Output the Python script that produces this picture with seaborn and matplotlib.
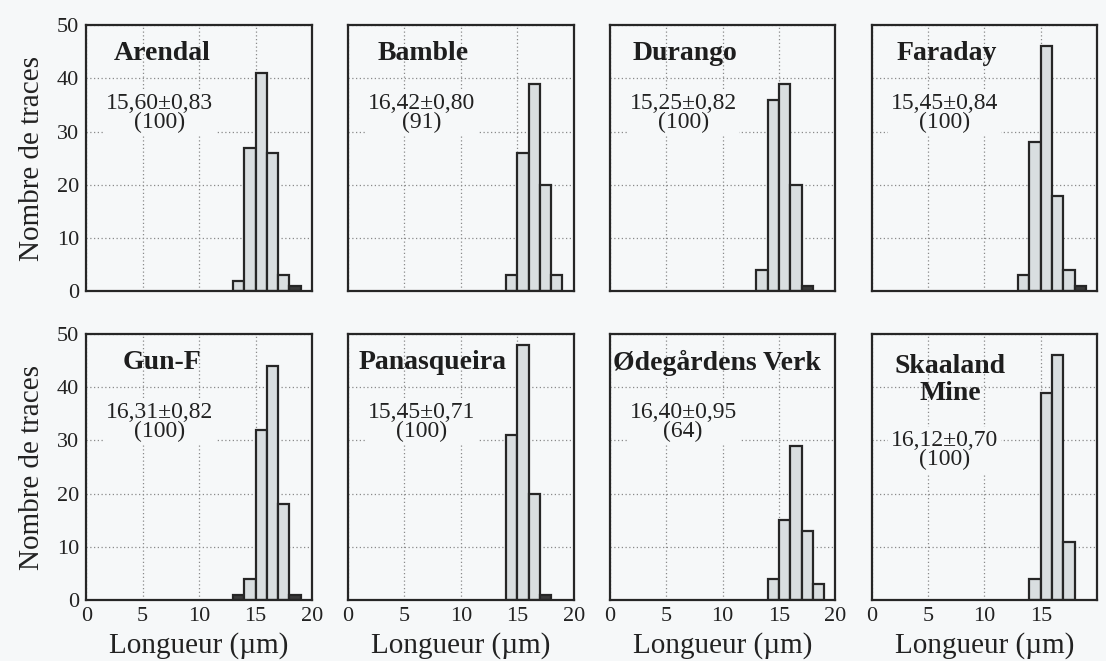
import numpy as np
import pandas as pd
import matplotlib
matplotlib.use("Agg")
import matplotlib.pyplot as plt
import seaborn as sns

# track length histograms, 1 um bins (left edge of first bin + counts)
sites = ["Arendal", "Bamble", "Durango", "Faraday",
         "Gun-F", "Panasqueira", "Ødegårdens Verk", "Skaaland\nMine"]
first_bin = [13, 14, 13, 13, 13, 14, 14, 14]
counts = [
    [2, 27, 41, 26, 3, 1],
    [3, 26, 39, 20, 3],
    [4, 36, 39, 20, 1],
    [3, 28, 46, 18, 4, 1],
    [1, 4, 32, 44, 18, 1],
    [31, 48, 20, 1],
    [4, 15, 29, 13, 3],
    [4, 39, 46, 11],
]
means = ["15,60±0,83", "16,42±0,80", "15,25±0,82", "15,45±0,84",
         "16,31±0,82", "15,45±0,71", "16,40±0,95", "16,12±0,70"]
n_tracks = [100, 91, 100, 100, 100, 100, 64, 100]

sns.set_style("white")
plt.rcParams["font.family"] = ["Liberation Serif", "DejaVu Serif"]

bg = "#f6f8f9"
fig, axes = plt.subplots(2, 4, figsize=(11.06, 6.61), dpi=100, sharex=True, sharey=True)
fig.patch.set_facecolor(bg)
plt.subplots_adjust(left=0.078, right=0.992, top=0.962, bottom=0.092, wspace=0.16, hspace=0.16)

for i, ax in enumerate(axes.flat):
    lo = first_bin[i]
    c = counts[i]
    df = pd.DataFrame({"x": np.arange(lo, lo + len(c)) + 0.5, "n": c})
    ax.set_facecolor(bg)
    ax.grid(True, color="#8a8a8a", linestyle=(0, (1, 2)), linewidth=0.9)
    ax.set_axisbelow(True)
    sns.histplot(data=df, x="x", weights="n", binwidth=1, binrange=(lo, lo + len(c)),
                 color="#d9dee0", alpha=1, edgecolor="#262626", linewidth=1.6, ax=ax)
    # single-track bins look solid dark in the original print
    for p in ax.patches:
        if p.get_height() <= 1:
            p.set_facecolor("#3a3a3a")
    ax.set_xlim(0, 20)
    ax.set_ylim(0, 50)
    ax.set_xticks([0, 5, 10, 15, 20])
    ax.set_yticks([0, 10, 20, 30, 40, 50])
    ax.tick_params(direction="in", length=7, width=1.6, labelsize=16, pad=5, colors="#222222")
    for s in ax.spines.values():
        s.set_linewidth(1.6)
        s.set_color("#262626")
    ax.set_xlabel("")
    ax.set_ylabel("")

    name = sites[i]
    if "\n" in name:
        ax.text(7.0, 41.4, name, ha="center", va="center", fontsize=20, fontweight="bold",
                linespacing=1.1, color="#1e1e1e")
        sy = 28.2
    elif len(name) > 10:
        ax.text(0.3 if len(name) > 12 else 0.9, 44.6, name, ha="left", va="center",
                fontsize=20, fontweight="bold", color="#1e1e1e")
        sy = 33.5
    else:
        ax.text(6.7, 44.6, name, ha="center", va="center", fontsize=20, fontweight="bold",
                color="#1e1e1e")
        sy = 33.5
    ax.text(6.5, sy, f"{means[i]}\n({n_tracks[i]})", ha="center", va="center",
            fontsize=17, linespacing=0.9, color="#222222",
            bbox=dict(facecolor=bg, edgecolor="none", pad=2))

for ax in axes[:, 0]:
    ax.set_ylabel("Nombre de traces", fontsize=21, color="#222222", labelpad=9)
for ax in axes[1, :]:
    ax.set_xlabel("Longueur (µm)", fontsize=21, color="#222222", labelpad=4)

# the last "20" falls off the page in the original
fig.canvas.draw()
axes[1, 3].get_xticklabels()[-1].set_visible(False)

fig.savefig("out.png", dpi=100, facecolor=bg)
